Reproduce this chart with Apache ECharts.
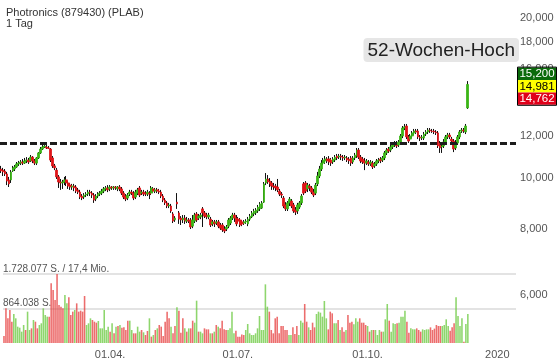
<!DOCTYPE html>
<html><head><meta charset="utf-8">
<script src="https://cdn.jsdelivr.net/npm/echarts@6/dist/echarts.min.js"></script>
<style>html,body{margin:0;padding:0;background:#fff}#c{width:560px;height:363px}</style>
</head><body><div id="c"></div>
<script>
const titleLines = ['Photronics (879430) (PLAB)', '1 Tag'];
const highLabel = '52-Wochen-Hoch';
const startDate = [2019, 0, 15];
const dayCount = 261;

const openP = [
10380,10330,10290,10160,9900,9900,10290,10380,10470,10610,
10650,10700,10650,10750,10790,10750,10930,10750,10650,10890,
11130,11320,11420,11420,11370,11320,10890,10520,10330,10030,
9810,9770,9810,9900,9770,9680,9600,9640,9600,9480,
9390,9230,9190,9270,9310,9390,9350,9270,9110,9230,
9310,9350,9430,9520,9560,9520,9600,9560,9600,9520,
9600,9520,9350,9230,9150,9310,9390,9350,9190,9350,
9560,9350,9390,9350,9310,9350,9350,9520,9430,9480,
9430,9390,9230,9070,8960,8840,8840,8540,8320,8990,
8580,8390,8320,8390,8280,8320,8320,8100,8280,8540,
8390,8430,8730,8580,8500,8430,8350,8180,8250,8210,
8250,8140,8140,8000,8000,8100,8210,8390,8500,8390,
8350,8320,8250,8210,8250,8180,8350,8430,8540,8580,
8650,8730,8760,8990,9770,9940,9850,9770,9640,9640,
9600,9430,9310,9150,8880,8730,8960,9030,8880,8690,
8650,8800,8960,9730,9770,9520,9640,9560,9390,9350,
9730,10070,10380,10650,10750,10840,10840,10790,10700,10790,
10980,10930,10980,10930,10890,10890,10840,10890,10700,10890,
10980,11270,10930,10840,10750,10650,10700,10610,10650,10520,
10610,10750,10840,10790,10890,11130,11320,11270,11420,11520,
11620,11520,11670,11980,12400,12510,11930,11820,11980,12140,
12240,12240,11930,11870,11870,12080,12190,12290,12240,12240,
12190,12140,11620,11420,11470,11670,11930,12030,11820,11720,
11370,11620,11930,12240,12290,12190,13530];

const closeP = [
10290,10250,10160,9850,9730,10250,10430,10470,10610,10650,
10700,10650,10750,10790,10700,10930,10750,10650,10890,11130,
11320,11420,11470,11370,11350,10790,10520,10430,10030,9810,
9770,9810,9900,9770,9640,9600,9640,9560,9430,9390,
9190,9150,9270,9310,9390,9350,9270,9070,9230,9310,
9350,9430,9520,9560,9480,9600,9560,9600,9560,9600,
9520,9350,9190,9110,9270,9390,9350,9150,9390,9480,
9270,9390,9310,9310,9390,9310,9560,9430,9480,9430,
9390,9230,9070,8960,8840,8880,8650,8280,8390,8920,
8350,8320,8390,8280,8320,8280,8070,8320,8500,8320,
8460,8500,8580,8460,8430,8500,8140,8250,8180,8250,
8100,8030,7970,7930,8070,8320,8390,8500,8390,8180,
8280,8140,8180,8250,8280,8350,8460,8580,8650,8690,
8800,8920,8960,9730,9940,9810,9730,9640,9600,9560,
9480,9310,9270,8840,8730,8960,9110,8840,8650,8610,
8880,8960,9230,9350,9430,9680,9560,9390,9270,9680,
10070,10380,10650,10790,10840,10750,10700,10650,10840,10930,
10890,10980,10930,10890,10930,10790,10750,10650,10890,11030,
11270,10930,10750,10700,10650,10750,10610,10700,10470,10610,
10750,10790,10750,10890,11130,11270,11220,11420,11520,11620,
11470,11670,11980,12400,12460,11930,11720,11980,12140,12240,
12190,11930,11870,11930,12080,12190,12290,12240,12220,12190,
12140,11470,11370,11470,11670,11930,12030,11930,11720,11320,
11620,11930,12190,12290,12240,12510,14981];

const highP = [
10520,10430,10380,10250,10030,10330,10520,10560,10700,10750,
10790,10840,10890,10930,10890,11030,10980,10840,10930,11170,
11420,11520,11570,11520,11470,11370,10980,10610,10430,10110,
9940,9900,10030,10070,9850,9770,9730,9730,9680,9560,
9480,9310,9350,9390,9480,9480,9430,9350,9310,9390,
9430,9520,9600,9640,9680,9680,9640,9640,9640,9640,
9680,9600,9430,9310,9350,9480,9480,9430,9480,9560,
9640,9480,9480,9430,9480,9430,9640,9600,9560,9560,
9520,9480,9310,9150,9030,8960,8920,8610,8460,9350,
8650,8460,8500,8500,8430,8390,8390,8500,8580,8610,
8540,8580,8800,8650,8580,8580,8430,8320,8320,8320,
8320,8210,8210,8100,8140,8390,8460,8580,8580,8500,
8430,8390,8320,8320,8350,8430,8540,8650,8730,8760,
8880,8990,9030,9810,10200,10110,9980,9850,9770,9730,
9940,9520,9390,9230,8990,9030,9190,9110,8960,8800,
8960,9030,9310,9810,9850,9770,9730,9640,9520,9770,
10250,10520,10790,10890,10980,10930,10980,10890,10930,11030,
11080,11080,11080,11030,11030,10980,10930,10980,10980,11130,
11370,11370,11030,10930,10890,10840,10790,10790,10750,10700,
10840,10890,10930,10980,11220,11370,11420,11520,11620,11720,
11720,11770,12080,12510,12620,12620,12030,12080,12240,12350,
12350,12350,12030,12030,12190,12290,12400,12400,12350,12350,
12290,12240,11720,11620,11820,12030,12140,12140,11930,11820,
11770,12030,12290,12400,12400,12620,15200];

const lowP = [
10200,10070,10070,9680,9600,9770,10250,10290,10430,10520,
10560,10560,10610,10650,10610,10700,10650,10560,10560,10840,
11080,11270,11370,11320,11320,10700,10430,10330,9940,9560,
9480,9520,9680,9640,9520,9480,9480,9430,9350,9310,
9110,9070,9110,9190,9230,9230,9150,8960,9030,9150,
9230,9270,9350,9430,9390,9430,9480,9480,9480,9430,
9430,9270,9110,9030,9070,9230,9270,9070,9110,9270,
9190,9270,9230,9230,9230,9110,9270,9350,9350,9350,
9310,9150,8990,8880,8760,8760,8580,8210,8250,8730,
8180,8140,8210,8180,8210,8210,8000,8030,8210,8250,
8320,8350,8070,8390,8350,8350,8070,8100,8070,8140,
8030,7970,7900,7860,7930,8030,8140,8320,8250,8100,
8210,8070,8100,8140,8180,8100,8280,8390,8460,8500,
8580,8650,8730,8960,9680,9730,9600,9480,9480,9430,
9390,9230,9150,8760,8650,8650,8840,8760,8580,8500,
8540,8730,8880,9270,9350,9390,9430,9310,9190,9270,
9640,9980,10290,10560,10610,10650,10560,10520,10610,10700,
10790,10840,10790,10750,10790,10700,10610,10520,10610,10790,
10890,10840,10650,10610,10330,10560,10520,10520,10380,10430,
10520,10650,10650,10700,10790,11030,11130,11170,11320,11420,
11370,11420,11570,11870,12290,11820,11620,11720,11870,12030,
12080,11820,11720,11770,11770,11980,12080,12140,12140,12080,
12030,11370,11130,11130,11370,11570,11820,11820,11570,11170,
11270,11520,11820,12140,12140,12080,13470];

const volume = [
175000,868000,618000,826000,534000,726000,618000,409000,384000,284000,
451000,326000,785000,326000,367000,576000,534000,367000,451000,493000,
868000,701000,660000,660000,1494000,1327000,1077000,1728077,952000,910000,
868000,1202000,993000,1144000,701000,785000,826000,993000,785000,810000,
785000,1177000,451000,493000,618000,576000,534000,509000,551000,367000,
367000,826000,326000,409000,284000,493000,242000,409000,426000,451000,
380000,392000,326000,559000,559000,326000,242000,242000,409000,284000,326000,
267000,200000,301000,618000,159000,200000,326000,367000,451000,409000,
175000,534000,785000,618000,409000,242000,426000,893000,810000,259000,
618000,367000,284000,367000,367000,559000,509000,1060000,284000,284000,
242000,367000,342000,342000,242000,242000,284000,451000,409000,367000,
559000,342000,326000,326000,367000,785000,242000,309000,159000,159000,
210000,200000,326000,476000,242000,200000,200000,242000,367000,676000,326000,
326000,1469000,910000,785000,326000,242000,618000,660000,242000,426000,
426000,326000,326000,200000,200000,392000,225000,426000,200000,559000,
509000,977000,534000,392000,326000,509000,392000,726000,785000,760000,
660000,1052000,618000,342000,785000,743000,493000,493000,576000,326000,
392000,284000,326000,701000,509000,534000,470000,618000,534000,618000,509000,
509000,451000,426000,284000,326000,326000,326000,200000,326000,284000,
284000,593000,977000,559000,284000,493000,476000,493000,509000,660000,
660000,810000,534000,259000,367000,342000,342000,367000,326000,284000,
342000,326000,342000,342000,392000,326000,360000,451000,426000,426000,426000,
451000,593000,426000,309000,392000,493000,1144000,676000,426000,618000,
33000,476000,726000];

const priceTicks = [6000, 8000, 10000, 12000, 14000, 16000, 18000, 20000];
const volMax = 1728077;
const volTickLabels = ['', '864.038 S.', '1.728.077 S. / 17,4 Mio.'];
const breakoutLevel = 11620;
const quoteLabels = [
  {value: 15200, bg: '#0b6a0b', fg: '#ffffff'},
  {value: 14981, bg: '#ffff00', fg: '#000000'},
  {value: 14762, bg: '#e0001a', fg: '#ffffff'}
];

const FONT = 'Arial, "Liberation Sans", sans-serif';
const UP = '#3ab515', DOWN = '#df1418';
const VUP = 'rgba(104,200,60,0.75)', VDOWN = 'rgba(228,52,52,0.72)';

const dates = [];
let dt = new Date(Date.UTC(startDate[0], startDate[1], startDate[2]));
while (dates.length < dayCount) {
  const wd = dt.getUTCDay();
  if (wd !== 0 && wd !== 6) dates.push(dt.toISOString().slice(0, 10));
  dt = new Date(dt.getTime() + 86400000);
}

const wickData = openP.map((o, i) => [o, closeP[i], lowP[i], highP[i]]);
const bodyData = openP.map((o, i) => [o, closeP[i], Math.min(o, closeP[i]), Math.max(o, closeP[i])]);
const volData = volume.map((v, i) => ({value: v, itemStyle: {color: closeP[i] >= openP[i] ? VUP : VDOWN}}));

function isLabelDay(idx) {
  if (idx === 0) return false;
  const m = dates[idx].slice(5, 7), pm = dates[idx - 1].slice(5, 7);
  return m !== pm && ['01', '04', '07', '10'].includes(m);
}

const chart = echarts.init(document.getElementById('c'), null, {renderer: 'canvas'});
chart.setOption({
  animation: false,
  textStyle: {fontFamily: FONT},
  title: {
    text: titleLines.join('\n'), left: 1, top: 2,
    textStyle: {fontSize: 11, fontWeight: 'normal', color: '#333', lineHeight: 11, fontFamily: FONT}
  },
  grid: [
    {left: 0, right: 44, top: 0, bottom: 20},
    {left: 0, right: 44, top: 274, bottom: 20}
  ],
  xAxis: [
    {type: 'category', gridIndex: 0, data: dates, axisLine: {show: false}, axisTick: {show: false}, axisLabel: {show: false}, splitLine: {show: false}},
    {type: 'category', gridIndex: 1, data: dates, axisLine: {show: false}, axisTick: {show: false}, splitLine: {show: false},
     axisLabel: {
       interval: (idx) => isLabelDay(idx),
       formatter: (v) => v.slice(5, 7) === '01' ? v.slice(0, 4) : v.slice(8, 10) + '.' + v.slice(5, 7) + '.',
       color: '#555', fontSize: 11, margin: 6, fontFamily: FONT
     }}
  ],
  yAxis: [
    {type: 'log', logBase: 10, gridIndex: 0, position: 'right', min: 4878, max: 21614,
     axisLine: {show: false}, axisTick: {show: false}, splitLine: {show: false},
     axisLabel: {customValues: priceTicks, formatter: (v) => Math.round(v).toLocaleString('en-US'), color: '#555', fontSize: 11, margin: 4, fontFamily: FONT}},
    {type: 'value', gridIndex: 1, min: 0, max: volMax, interval: volMax / 2,
     axisLine: {show: false}, axisTick: {show: false},
     splitLine: {show: true, showMinLine: false, lineStyle: {color: '#e3e3e3', width: 2}},
     axisLabel: {inside: true, margin: 0, verticalAlign: 'bottom', formatter: (v, i) => volTickLabels[i] || '', color: '#555', fontSize: 10, fontFamily: FONT}}
  ],
  series: [
    {type: 'candlestick', name: 'wick', xAxisIndex: 0, yAxisIndex: 0, data: wickData, barWidth: 1,
     itemStyle: {color: '#111', color0: '#111', borderColor: '#111', borderColor0: '#111', borderWidth: 1},
     markLine: {silent: true, symbol: 'none', label: {show: false}, animation: false,
       lineStyle: {color: '#1c1c1c', width: 3, type: [7, 3]}, data: [{yAxis: breakoutLevel}]}},
    {type: 'candlestick', name: 'body', xAxisIndex: 0, yAxisIndex: 0, data: bodyData, barWidth: 2.2,
     itemStyle: {color: UP, color0: DOWN, borderColor: UP, borderColor0: DOWN, borderWidth: 0.8}},
    {type: 'bar', name: 'vol', xAxisIndex: 1, yAxisIndex: 1, data: volData, barWidth: '80%'}
  ]
});

const yLast = chart.convertToPixel({yAxisIndex: 0}, quoteLabels[1].value);
const boxH = 12.4, boxW = 38, boxX = 518;
const midTop = Math.round(yLast - 4.5);
const gfx = [];
quoteLabels.forEach((q, k) => {
  const top = midTop + (k - 1) * boxH;
  gfx.push({type: 'rect', z: 100, shape: {x: boxX, y: top, width: boxW, height: boxH}, style: {fill: q.bg}});
  gfx.push({type: 'text', z: 101, x: boxX + boxW / 2, y: top + boxH / 2 + 0.5,
    style: {text: q.value.toLocaleString('en-US'), fill: q.fg, font: '11.5px ' + FONT, align: 'center', verticalAlign: 'middle'}});
});
gfx.push({type: 'rect', z: 102, shape: {x: boxX - 0.5, y: midTop - boxH - 0.5, width: boxW + 1, height: boxH * 3 + 1},
  style: {fill: 'none', stroke: '#000', lineWidth: 1}});
gfx.push({type: 'text', z: 100, right: 41, top: 38,
  style: {text: highLabel, fill: '#222', font: '19px ' + FONT, backgroundColor: '#e6e6e6', padding: [3, 4, 2, 4], borderRadius: 4}});
chart.setOption({graphic: gfx});
</script>
</body></html>
